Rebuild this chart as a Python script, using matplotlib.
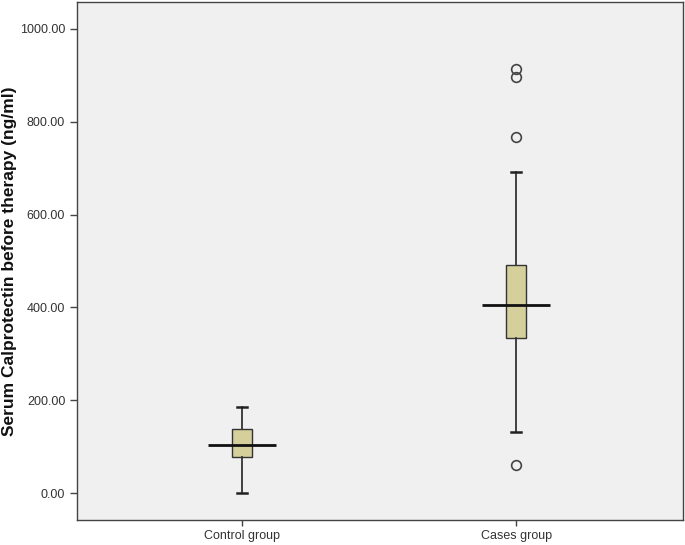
import matplotlib
matplotlib.use('Agg')
import matplotlib.pyplot as plt

plt.rcParams['font.family'] = ['Liberation Sans', 'DejaVu Sans']

# group stats
groups = ['Control group', 'Cases group']
whislo = [0, 131]
q1 = [78, 334]
med = [103, 405]
q3 = [138, 491]
whishi = [185, 692]
fliers = [[], [60, 767, 897, 914]]

stats = []
for i in range(len(groups)):
    stats.append({'label': groups[i], 'whislo': whislo[i], 'q1': q1[i],
                  'med': med[i], 'q3': q3[i], 'whishi': whishi[i],
                  'fliers': fliers[i]})

fig = plt.figure(figsize=(6.85, 5.45), dpi=100)
ax = fig.add_axes([77/685, 25/545, 606/685, 518/545])
ax.set_facecolor('#f0f0f0')

pos = [1, 2]
ax.bxp(stats, positions=pos, widths=0.07, patch_artist=True,
       boxprops=dict(facecolor='#d5cf9b', edgecolor='#333333', linewidth=1),
       whiskerprops=dict(color='#333333', linewidth=1.3),
       capprops=dict(color='#222222', linewidth=1.8),
       medianprops=dict(linewidth=0),
       flierprops=dict(marker='o', markersize=7, markerfacecolor='none',
                       markeredgecolor='#444444', markeredgewidth=1.2))
# SPSS style wide median line
ax.hlines(med, [p - 0.125 for p in pos], [p + 0.125 for p in pos],
          colors='#111111', linewidth=2)

ax.set_xlim(0.398, 2.609)
ax.set_ylim(-58, 1058)
ax.set_yticks([0, 200, 400, 600, 800, 1000])
ax.set_yticklabels(['%.2f' % v for v in [0, 200, 400, 600, 800, 1000]])
ax.set_xticks(pos)
ax.set_xticklabels(groups)
ax.tick_params(axis='both', labelsize=9, colors='#444444', labelcolor='#333333',
               length=5, width=1)
ax.tick_params(axis='x', length=4)
for s in ax.spines.values():
    s.set_color('#444444')
    s.set_linewidth(1)

fig.text(10/685, 1 - 261/545, 'Serum Calprotectin before therapy (ng/ml)',
         rotation=90, ha='center', va='center', fontsize=12.5,
         fontweight='bold', color='#111111')

fig.savefig('out.png', dpi=100)
